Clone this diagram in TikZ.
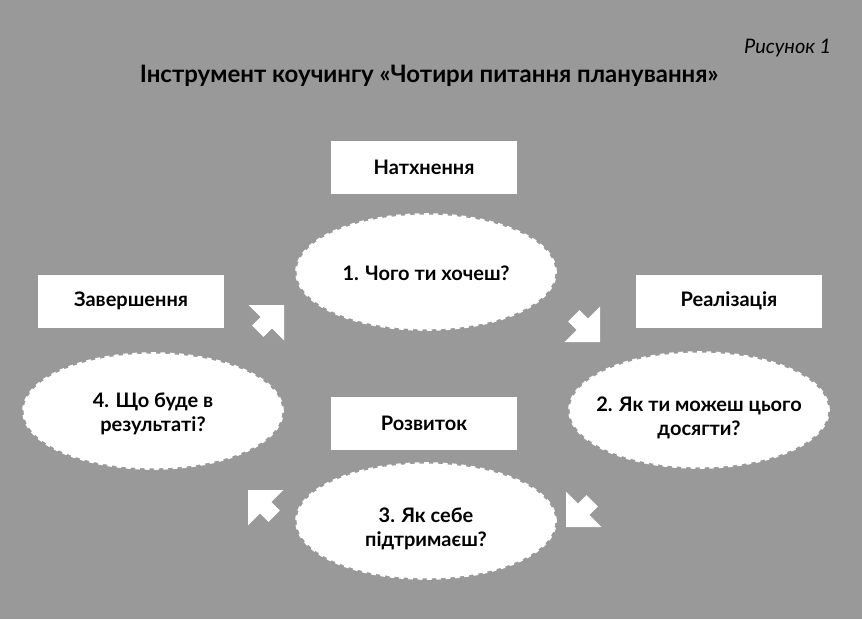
\documentclass[tikz,border=0pt]{standalone}
\usepackage{fontspec}
\setmainfont{Lato}
\usetikzlibrary{shapes.geometric}

\definecolor{bggray}{HTML}{999999}

\tikzset{
  phase/.style={draw=none,fill=white,minimum width=140pt,minimum height=39.75pt,font=\bfseries\fontsize{15}{18}\selectfont},
  question/.style={ellipse,draw=white,fill=white,line width=2.2pt,dash pattern=on 3.5pt off 3.5pt,
    preaction={draw=white,line width=1.2pt},minimum width=194pt,minimum height=86pt},
  qtext/.style={align=center,font=\bfseries\fontsize{15}{18}\selectfont},
  blockarrow/.style={fill=white,draw=none}
}

\begin{document}
\begin{tikzpicture}[x=0.75pt,y=-0.75pt]
\fill[bggray] (0,0) rectangle (862,619);
\useasboundingbox (0,0) rectangle (862,619);

% title
\node[anchor=east,font=\itshape\fontsize{15}{18}\selectfont] (fig) at (836,48) {Рисунок 1};
\node[font=\bfseries\fontsize{18}{22}\selectfont] (title) at (429,76) {Інструмент коучингу «Чотири питання планування»};

% stages
\node[phase] (inspire) at (424,167) {Натхнення};
\node[phase] (realize) at (729,301) {Реалізація};
\node[phase] (finish) at (131,301) {Завершення};
\node[phase] (grow) at (424,423) {Розвиток};

% questions
\node[question] (q1) at (426,272) {};
\node[question] (q2) at (699,410) {};
\node[question] (q3) at (426,521) {};
\node[question] (q4) at (153,411) {};
\node[qtext] (q1text) at ([yshift=-1pt]q1.center) {1. Чого ти хочеш?};
\node[qtext] (q2text) at ([yshift=-6pt]q2.center) {2. Як ти можеш цього\\досягти?};
\node[qtext] (q3text) at ([yshift=-6pt]q3.center) {3. Як себе\\підтримаєш?};
\node[qtext] (q4text) at ([yshift=-2pt]q4.center) {4. Що буде в\\результаті?};

% arrows
\foreach \tx/\ty/\ang in {284/305/45, 600/342/-45, 566/527/-135, 248/490/135}
  \fill[blockarrow,shift={(\tx,\ty)},rotate=\ang]
    (0,0) -- (-25,25) -- (-25,8) -- (-37,8) -- (-37,-8) -- (-25,-8) -- (-25,-25) -- cycle;
\end{tikzpicture}
\end{document}
